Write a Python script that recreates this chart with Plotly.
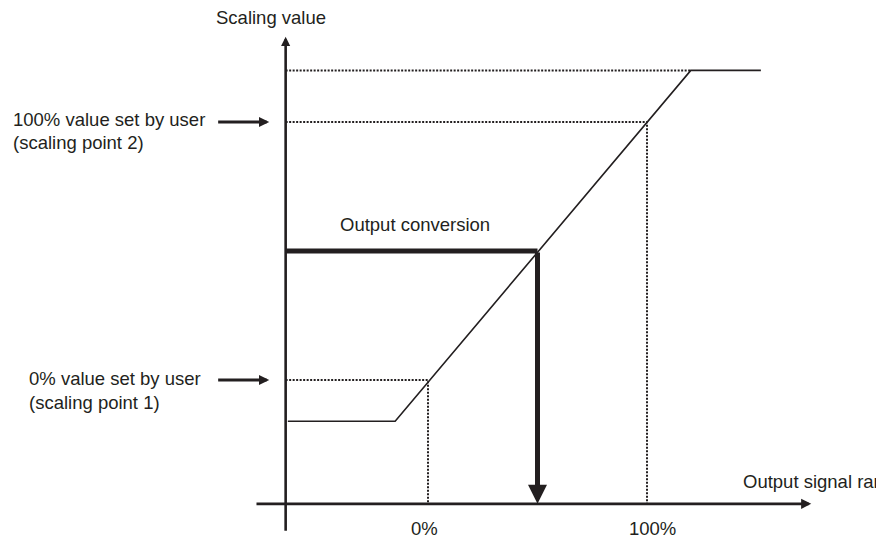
import plotly.graph_objects as go

# ---- data (x: output signal range in %, y: scaling value in %) ----
curve_x = [-64, -15, 120, 152]
curve_y = [-16, -16, 120, 120]
scaling_points_x = [0, 100]          # 0% / 100% of output signal range
scaling_points_y = [0, 100]          # scaling point 1 / scaling point 2
saturation_y = 120
saturation_x = 120
conversion_x = 50
conversion_y = 50
axis_x0 = -65                         # position of the vertical axis
axis_y0 = -48                         # position of the horizontal axis
tick_labels = ["0%", "100%"]

INK = "#231f20"
FONT = dict(family="Liberation Sans, Arial, sans-serif", size=18.5, color=INK)

fig = go.Figure()

# characteristic curve
fig.add_trace(go.Scatter(x=curve_x, y=curve_y, mode="lines",
                         line=dict(color=INK, width=1.6), hoverinfo="skip"))

dot = dict(color=INK, width=2, dash="2px,1.5px")
# dotted guide: saturation level
fig.add_trace(go.Scatter(x=[axis_x0, saturation_x], y=[saturation_y, saturation_y],
                         mode="lines", line=dot, hoverinfo="skip"))
# dotted guides: scaling points
for sx, sy in zip(scaling_points_x, scaling_points_y):
    fig.add_trace(go.Scatter(x=[axis_x0, sx, sx], y=[sy, sy, axis_y0],
                             mode="lines", line=dot, hoverinfo="skip"))

# thick output conversion line
fig.add_trace(go.Scatter(x=[axis_x0, conversion_x], y=[conversion_y, conversion_y],
                         mode="lines", line=dict(color=INK, width=5), hoverinfo="skip"))

def arrow(x0, y0, x1, y1, width, size):
    fig.add_annotation(x=x1, y=y1, ax=x0, ay=y0, xref="x", yref="y",
                       axref="x", ayref="y", text="", showarrow=True,
                       arrowhead=2, arrowwidth=width, arrowsize=size,
                       arrowcolor=INK, standoff=0, startstandoff=0)

# axes
arrow(axis_x0, -59, axis_x0, 133, 2.6, 0.7)
arrow(-79, axis_y0, 175, axis_y0, 2.6, 0.78)
# output conversion arrow down
arrow(conversion_x, conversion_y, conversion_x, axis_y0, 5, 0.76)
# label arrows
for sy in scaling_points_y:
    arrow(-96.5, sy, -72.5, sy, 3, 0.68)

def label(text, x, y, xanchor="left"):
    fig.add_annotation(x=x, y=y, xref="x", yref="y", text=text, showarrow=False,
                       xanchor=xanchor, yanchor="middle", font=FONT)

label("Scaling value", -97.5, 140.7)
label("100% value set by user", -190.5, 101.0)
label("(scaling point 2)", -190.5, 92.0)
label("0% value set by user", -183, 0.4)
label("(scaling point 1)", -183, -8.9)
label("Output conversion", -41, 60.1)
label("Output signal range", 143, -39.5)
for tx, tl in zip(scaling_points_x, tick_labels):
    label(tl, tx + (-1.4 if tx == 0 else 2.7), -57.5, xanchor="center")

# page body adds an 8px offset; ranges compensate so marks land where the reference has them
fig.update_layout(
    width=884, height=540,
    margin=dict(l=0, r=0, t=0, b=0),
    paper_bgcolor="white", plot_bgcolor="white",
    showlegend=False,
    xaxis=dict(range=[-191.78, 211.87], visible=False, fixedrange=True),
    yaxis=dict(range=[-65.11, 144.19], visible=False, fixedrange=True),
)

fig.write_html("out.html")
